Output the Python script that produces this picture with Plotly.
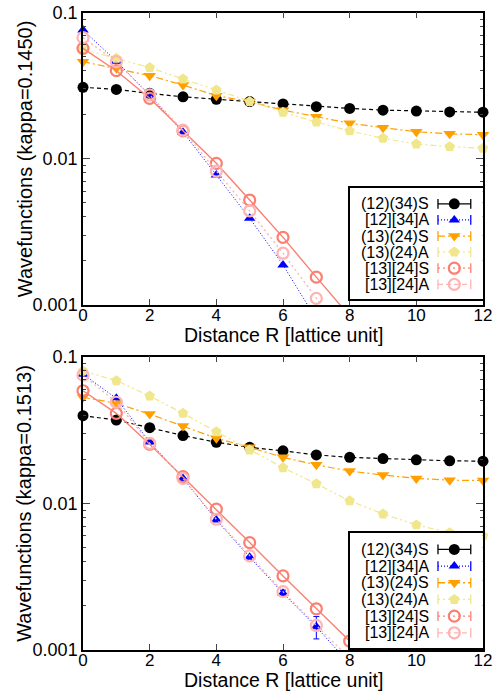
import plotly.graph_objects as go

# ---------------- data ----------------
R = list(range(13))
names = ["(12)(34)S", "[12][34]A", "(13)(24)S", "(13)(24)A", "[13][24]S", "[13][24]A"]

# kappa = 0.1450 (top panel)
top_s1234 = [0.0308, 0.0298, 0.0280, 0.0265, 0.0255, 0.0246, 0.0237, 0.0227, 0.0221, 0.0215, 0.0212, 0.0209, 0.0208]
top_a1234 = [0.0759, 0.0465, 0.0272, 0.0152, 0.00774, 0.00392, 0.00188, 0.0008]
top_s1324 = [0.0461, 0.0415, 0.0370, 0.0319, 0.0270, 0.0246, 0.0215, 0.0194, 0.0175, 0.0163, 0.0153, 0.0148, 0.0146]
top_a1324 = [0.0560, 0.0486, 0.0420, 0.0351, 0.0295, 0.0246, 0.0208, 0.0178, 0.0155, 0.0138, 0.0126, 0.0121, 0.0118]
top_s1324b = [0.0569, 0.0400, 0.0259, 0.0155, 0.0093, 0.00522, 0.00290, 0.00155, 0.00084]
top_a1324b = [0.0673, 0.0461, 0.0273, 0.0157, 0.00824, 0.00440, 0.00226, 0.00111, 0.00055]

# kappa = 0.1513 (bottom panel)
bot_s1234 = [0.0396, 0.0370, 0.0328, 0.0290, 0.0261, 0.0241, 0.0228, 0.0214, 0.0206, 0.0202, 0.0198, 0.0195, 0.0194]
bot_a1234 = [0.0760, 0.0520, 0.0262, 0.0148, 0.0077, 0.00429, 0.00244, 0.00144, 0.0008]
bot_a1234_err = [0.0005, 0.0004, 0.0003, 0.0002, 0.0001, 0.00006, 0.00012, 0.00025, 0.0003]
bot_s1324 = [0.0529, 0.0481, 0.0406, 0.0337, 0.0278, 0.0241, 0.0206, 0.0183, 0.0166, 0.0156, 0.0148, 0.0144, 0.0143]
bot_a1324 = [0.0800, 0.0686, 0.0540, 0.0411, 0.0308, 0.0231, 0.0175, 0.0136, 0.0104, 0.00847, 0.00713, 0.0063, 0.0060]
bot_s1324b = [0.0586, 0.0411, 0.0253, 0.0152, 0.00912, 0.0054, 0.0032, 0.00191, 0.00115]
bot_a1324b = [0.0750, 0.0489, 0.0257, 0.0148, 0.00779, 0.00438, 0.0025, 0.00147, 0.00088]

x_ticks = [0, 2, 4, 6, 8, 10, 12]
y_ticks = [0.001, 0.01, 0.1]
y_ticktext = ["0.001", "0.01", "0.1"]
y_minor = [k * 10.0 ** e for e in (-3, -2) for k in range(2, 10)]

# ---------------- style ----------------
W, H = 502, 692
FONT = "Liberation Sans, Arial, sans-serif"
colors = ["#000000", "#0000ff", "#ffa000", "#f0e68c", "#fa8072", "#ffb4b4"]
symbols = ["circle", "triangle-up", "triangle-down", "pentagon", "circle-open", "circle-open"]
msizes = [11, 10, 11, 11, 11, 11]
dashes = ["4px,3px", "1px,2px", "7px,3px,2px,3px", "6px,3px,2px,3px,2px,3px", "solid", "2px,3px"]
lwidths = [1.2, 1.0, 1.2, 1.2, 1.4, 1.4]
legend_dashes = ["solid", "1px,2px", "7px,3px,2px,3px", "2px,3px", "2px,3px", "5px,3px"]


def px(x):
    return x / W


def py(y):
    return 1 - y / H


fig = go.Figure()

panels = [
    dict(xa="x", ya="y", lx="x3", ly="y3",
         data=[top_s1234, top_a1234, top_s1324, top_a1324, top_s1324b, top_a1324b],
         err={}),
    dict(xa="x2", ya="y2", lx="x4", ly="y4",
         data=[bot_s1234, bot_a1234, bot_s1324, bot_a1324, bot_s1324b, bot_a1324b],
         err={1: bot_a1234_err}),
]

for p in panels:
    for i, ys in enumerate(p["data"]):
        xs = R[:len(ys)]
        # line (clipped to plot area)
        fig.add_trace(go.Scatter(
            x=xs, y=ys, mode="lines", xaxis=p["xa"], yaxis=p["ya"],
            line=dict(color=colors[i], width=lwidths[i], dash=dashes[i]),
            showlegend=False, hoverinfo="skip"))
        # markers (only those inside the y range, unclipped like gnuplot)
        ym = [v if v >= 0.001 else None for v in ys]
        err = p["err"].get(i)
        mk = dict(color=colors[i], size=msizes[i], symbol=symbols[i])
        if symbols[i].endswith("open"):
            mk["line"] = dict(color=colors[i], width=2.2)
        fig.add_trace(go.Scatter(
            x=xs, y=ym, mode="markers", xaxis=p["xa"], yaxis=p["ya"],
            marker=mk, cliponaxis=False, name=names[i],
            error_y=(dict(type="data", array=err, color=colors[i], thickness=1, width=3)
                     if err is not None else None),
            showlegend=False))

    # custom gnuplot-style legend (text left, sample right)
    n = len(names)
    for i in range(n):
        yy = 1 - (0.14 + 0.145 * i)
        fig.add_trace(go.Scatter(
            x=[0.663, 0.91], y=[yy, yy], mode="lines+markers",
            xaxis=p["lx"], yaxis=p["ly"],
            line=dict(color=colors[i], width=1.3, dash=legend_dashes[i]),
            marker=dict(symbol="line-ns", size=7, line=dict(color=colors[i], width=1.3)),
            showlegend=False, hoverinfo="skip", cliponaxis=False))
        mk = dict(color=colors[i], size=msizes[i], symbol=symbols[i])
        if symbols[i].endswith("open"):
            mk["line"] = dict(color=colors[i], width=2.2)
        fig.add_trace(go.Scatter(
            x=[0.786], y=[yy], mode="markers", xaxis=p["lx"], yaxis=p["ly"],
            marker=mk, showlegend=False, hoverinfo="skip", cliponaxis=False))
        fig.add_annotation(x=0.61, y=yy, xref=p["lx"], yref=p["ly"], text=names[i],
                           showarrow=False, xanchor="right", yanchor="middle",
                           font=dict(size=16, color="black", family=FONT))

xdom = [px(83), px(483)]
common_x = dict(range=[0, 12], tickvals=x_ticks, ticks="inside", ticklen=6, tickwidth=1.2,
                showline=True, mirror="ticks", linecolor="black", linewidth=1.5,
                showgrid=False, zeroline=False, domain=xdom, automargin=False,
                ticklabelstandoff=-6,
                tickfont=dict(size=17, color="black", family=FONT))
common_y = dict(type="log", range=[-3, -1], tickvals=y_ticks, ticktext=y_ticktext,
                ticks="inside", ticklen=7, tickwidth=1.2, automargin=False,
                minor=dict(tickmode="array", tickvals=y_minor, ticks="inside", ticklen=3.5,
                           tickwidth=1, showgrid=False),
                showline=True, mirror="ticks", linecolor="black", linewidth=1.5,
                showgrid=False, zeroline=False,
                tickfont=dict(size=18, color="black", family=FONT))
leg_common = dict(range=[0, 1], showticklabels=False, ticks="", showgrid=False,
                  zeroline=False, showline=True, mirror=True, linecolor="black",
                  linewidth=1.5, fixedrange=True, automargin=False)

fig.update_layout(
    template="none",
    width=W, height=H, margin=dict(l=0, r=0, t=0, b=0, pad=0),
    paper_bgcolor="white", plot_bgcolor="white", showlegend=False,
    font=dict(family=FONT, color="black"),
    xaxis=dict(common_x, anchor="y"),
    yaxis=dict(common_y, anchor="x", domain=[py(305), py(12.5)]),
    xaxis2=dict(common_x, anchor="y2"),
    yaxis2=dict(common_y, anchor="x2", domain=[py(650), py(356.7)]),
    xaxis3=dict(leg_common, anchor="y3", domain=[px(350), px(482.7)]),
    yaxis3=dict(leg_common, anchor="x3", domain=[py(299.3), py(188.3)]),
    xaxis4=dict(leg_common, anchor="y4", domain=[px(350), px(482.7)]),
    yaxis4=dict(leg_common, anchor="x4", domain=[py(648.3), py(533.3)]),
)

# axis titles
for yc, kap in [((12.5 + 305) / 2, "0.1450"), ((356.7 + 650) / 2, "0.1513")]:
    fig.add_annotation(x=px(24.5), y=py(yc), xref="paper", yref="paper",
                       text=f"Wavefunctions (kappa={kap})", textangle=-90, showarrow=False,
                       xanchor="center", yanchor="middle", font=dict(size=20, family=FONT))
for yc in [335, 680]:
    fig.add_annotation(x=px(283), y=py(yc), xref="paper", yref="paper",
                       text="Distance R [lattice unit]", showarrow=False,
                       xanchor="center", yanchor="middle", font=dict(size=19.5, family=FONT))

fig.write_html("out.html", config={"displayModeBar": False},
               post_script="document.body.style.margin='0';document.body.style.overflow='hidden';")
